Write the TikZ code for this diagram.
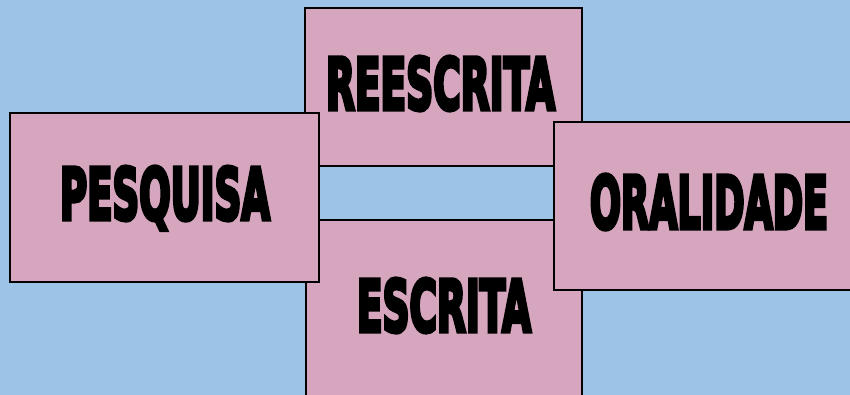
\documentclass[tikz,border=0pt]{standalone}
\usepackage{fontspec}
\newfontfamily\heavy{DejaVu Sans Condensed Bold}[FakeBold=6]
\usepackage{graphicx}
\definecolor{bgblue}{HTML}{9DC3E6}
\definecolor{boxpink}{HTML}{D5A6BD}
\tikzset{
  card/.style={draw=black, line width=1.2pt, fill=boxpink},
  label/.style={inner sep=0pt, anchor=base}
}
\newcommand{\bigword}[3]{\resizebox{#1pt}{#2pt}{\heavy #3}}
\begin{document}
\begin{tikzpicture}[x=1pt,y=-1pt]
\useasboundingbox (0,0) rectangle (850,395);
\fill[bgblue] (0,0) rectangle (850,395);
\begin{scope}
\clip (0,0) rectangle (850,395);
\draw[card] (305,8) rectangle (582,166);
\draw[card] (306,220) rectangle (582,410);
\draw[card] (10,113) rectangle (319,282);
\draw[card] (554,122) rectangle (870,290);
\end{scope}
\node[label] (reescrita) at (440.5,109.5) {\bigword{229}{53}{REESCRITA}};
\node[label] (pesquisa) at (165,219.5) {\bigword{210}{53}{PESQUISA}};
\node[label] (oralidade) at (709,228.5) {\bigword{238}{54}{ORALIDADE}};
\node[label] (escrita) at (444,331.5) {\bigword{174}{53}{ESCRITA}};
\end{tikzpicture}
\end{document}
